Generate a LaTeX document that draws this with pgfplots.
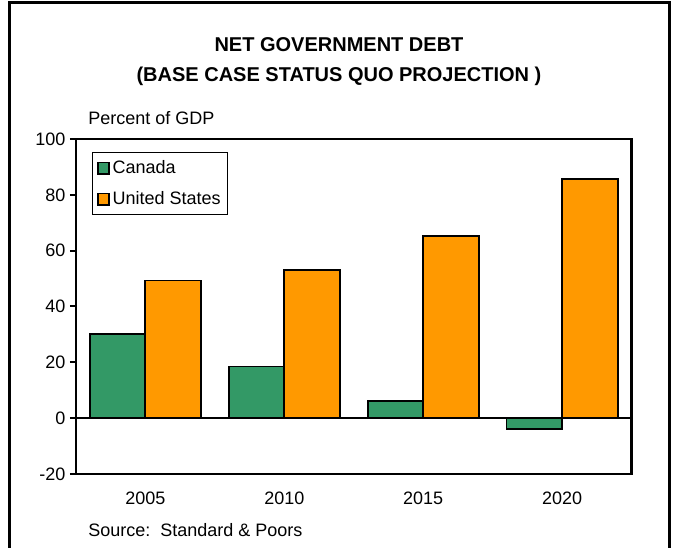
\documentclass[border=0pt]{standalone}
\usepackage{fontspec}
\setmainfont{Liberation Sans}
\usepackage{pgfplots}
\pgfplotsset{compat=1.18}
\definecolor{cgreen}{HTML}{339966}
\definecolor{corange}{HTML}{FF9900}
\begin{document}
\begin{tikzpicture}[x=0.75pt,y=0.75pt]
\useasboundingbox (-76,-74) rectangle (602,474);
\begin{axis}[
  at={(0,0)}, anchor=south west,
  scale only axis, width=416.6pt, height=251.25pt,
  xmin=-0.5, xmax=3.5, ymin=-20, ymax=100,
  xtick={0,1,2,3}, xticklabels={2005,2010,2015,2020},
  ytick={-20,0,20,40,60,80,100}, yticklabels={-20,0,20,40,60,80,100},
  ytick pos=left,
  tick align=outside,
  x tick style={draw=none},
  y tick style={line width=1.5pt, black},
  major tick length=4.5pt,
  axis line style={line width=2pt},
  ticklabel style={font=\fontsize{13.5}{16}\selectfont},
  xticklabel style={anchor=center, yshift=-14pt},
  legend style={at={(0.0288,0.961)}, anchor=north west, draw=black, line width=1pt,
    font=\fontsize{13.5}{16}\selectfont, row sep=8pt, inner xsep=3pt, inner ysep=4pt},
  legend cell align=left,
  legend image code/.code={\draw[#1] (0pt,-4.3pt) rectangle (8.6pt,4.3pt);},
]
\addplot[ybar, bar width=0.4, bar shift=-0.2, fill=cgreen, draw=black, line width=1.4pt]
  coordinates {(0,30.3) (1,18.5) (2,6.1) (3,-3.9)};
\addlegendentry{Canada}
\addplot[ybar, bar width=0.4, bar shift=0.2, fill=corange, draw=black, line width=1.4pt]
  coordinates {(0,49.3) (1,53.0) (2,65.3) (3,85.7)};
\addlegendentry{United States}
\addplot[black, line width=1.2pt, forget plot] coordinates {(-0.5,0) (3.5,0)};
\end{axis}
\draw[line width=2.25pt] (-66,-74) -- (-66,471) -- (593,471) -- (593,-74);
\node[font=\bfseries\fontsize{15}{22.5}\selectfont, align=center] at (263,412)
  {NET GOVERNMENT DEBT\\(BASE CASE STATUS QUO PROJECTION )};
\node[anchor=west, inner sep=0pt, font=\fontsize{13.5}{16}\selectfont] at (12,356) {Percent of GDP};
\node[anchor=west, inner sep=0pt, font=\fontsize{13.5}{16}\selectfont] at (12,-56) {Source:\ \ Standard \& Poors};
\end{tikzpicture}
\end{document}
